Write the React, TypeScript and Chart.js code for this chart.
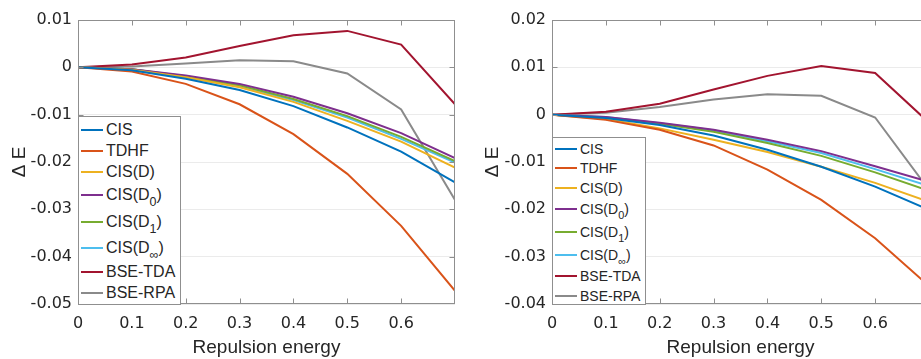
import React, { useEffect, useRef } from 'react';
import { Chart, registerables } from 'chart.js';

Chart.register(...registerables);

// ---------- data ----------
const xValues = [0, 0.1, 0.2, 0.3, 0.4, 0.5, 0.6, 0.7];
const xTickLabels = ['0', '0.1', '0.2', '0.3', '0.4', '0.5', '0.6', ''];
const xMin = 0;
const xMax = 0.7;

const seriesLabels = ['CIS', 'TDHF', 'CIS(D)', 'CIS(D_0)', 'CIS(D_1)', 'CIS(D_∞)', 'BSE-TDA', 'BSE-RPA'];
const seriesColors = ['#0072BD', '#D95319', '#EDB120', '#7E2F8E', '#77AC30', '#4DBEEE', '#A2142F', '#8a8a8a'];

// left panel
const leftCIS = [0, -0.0006, -0.0024, -0.0048, -0.0082, -0.0127, -0.0178, -0.0243];
const leftTDHF = [0, -0.0009, -0.0035, -0.0078, -0.0141, -0.0225, -0.0335, -0.0472];
const leftCISD = [0, -0.0005, -0.0021, -0.0042, -0.0073, -0.0113, -0.0157, -0.0212];
const leftCISD0 = [0, -0.0004, -0.0017, -0.0035, -0.0062, -0.0097, -0.0139, -0.0192];
const leftCISD1 = [0, -0.0004, -0.0019, -0.0038, -0.0067, -0.0103, -0.0147, -0.0198];
const leftCISDinf = [0, -0.0004, -0.0020, -0.0040, -0.0069, -0.0106, -0.0151, -0.0201];
const leftBSETDA = [0, 0.0006, 0.0021, 0.0045, 0.0068, 0.0077, 0.0048, -0.0078];
const leftBSERPA = [0, 0.0002, 0.0008, 0.0015, 0.0013, -0.0013, -0.0089, -0.0280];
const leftYMin = -0.05;
const leftYMax = 0.01;
const leftYTickLabels = ['-0.05', '-0.04', '-0.03', '-0.02', '-0.01', '0', '0.01'];

// right panel
const rightCIS = [0, -0.0007, -0.0022, -0.0044, -0.0074, -0.0110, -0.0152, -0.0201];
const rightTDHF = [0, -0.0011, -0.0032, -0.0065, -0.0116, -0.0180, -0.0261, -0.0362];
const rightCISD = [0, -0.0009, -0.0029, -0.0053, -0.0079, -0.0110, -0.0144, -0.0184];
const rightCISD0 = [0, -0.0005, -0.0017, -0.0032, -0.0053, -0.0077, -0.0109, -0.0142];
const rightCISD1 = [0, -0.0006, -0.0019, -0.0036, -0.0060, -0.0087, -0.0122, -0.0161];
const rightCISDinf = [0, -0.0005, -0.0018, -0.0033, -0.0056, -0.0081, -0.0115, -0.0151];
const rightBSETDA = [0, 0.0006, 0.0023, 0.0053, 0.0082, 0.0103, 0.0088, -0.0017];
const rightBSERPA = [0, 0.0004, 0.0016, 0.0032, 0.0043, 0.0040, -0.0006, -0.0159];
const rightYMin = -0.04;
const rightYMax = 0.02;
const rightYTickLabels = ['-0.04', '-0.03', '-0.02', '-0.01', '0', '0.01', '0.02'];

const leftSeries = [leftCIS, leftTDHF, leftCISD, leftCISD0, leftCISD1, leftCISDinf, leftBSETDA, leftBSERPA];
const rightSeries = [rightCIS, rightTDHF, rightCISD, rightCISD0, rightCISD1, rightCISDinf, rightBSETDA, rightBSERPA];

// ---------- styles ----------
const FONT = '"Liberation Sans", Arial, Helvetica, sans-serif';
const TICK_FONT = '"DejaVu Sans", sans-serif';
const TICK_SIZE = 16;
const AXIS_COLOR = '#8f8f8f';
const TEXT_COLOR = '#262626';
const GRID_COLOR = '#ebebeb';
const W = 921;
const H = 359;

const framePlugin = {
  id: 'matlabFrame',
  afterDatasetsDraw(chart: any) {
    const { ctx, chartArea: a, scales } = chart;
    const L = Math.round(a.left) + 0.5;
    const R = Math.round(a.right) - 0.5;
    const T = Math.round(a.top) + 0.5;
    const B = Math.round(a.bottom) - 0.5;
    ctx.save();
    ctx.strokeStyle = AXIS_COLOR;
    ctx.lineWidth = 1;
    ctx.strokeRect(L, T, R - L, B - T);
    const tl = 5;
    ctx.beginPath();
    scales.x.ticks.forEach((t: any) => {
      const px = Math.round(scales.x.getPixelForValue(t.value)) + 0.5;
      if (px <= L + 1 || px >= R - 1) return;
      ctx.moveTo(px, T); ctx.lineTo(px, T + tl);
      ctx.moveTo(px, B); ctx.lineTo(px, B - tl);
    });
    scales.y.ticks.forEach((t: any) => {
      const py = Math.round(scales.y.getPixelForValue(t.value)) + 0.5;
      if (py <= T + 1 || py >= B - 1) return;
      ctx.moveTo(L, py); ctx.lineTo(L + tl, py);
      ctx.moveTo(R, py); ctx.lineTo(R - tl, py);
    });
    ctx.stroke();
    ctx.restore();
  },
};

function LegendLabel({ text }: { text: string }) {
  const idx = text.indexOf('_');
  if (idx < 0) return <span>{text}</span>;
  const main = text.slice(0, idx);
  const sub = text.slice(idx + 1, idx + 2);
  const rest = text.slice(idx + 2);
  return (
    <span>
      {main}
      <span style={{ fontSize: '0.78em', position: 'relative', top: '0.5em' }}>{sub}</span>
      {rest}
    </span>
  );
}

type PanelProps = {
  series: number[][];
  yMin: number;
  yMax: number;
  yTickLabels: string[];
  canvasLeft: number;
  canvasWidth: number;
  yAxisWidth: number;
  padRight: number;
  yTitlePad: number;
  legend: { left: number; top: number; width: number; height: number; fontSize: number; rowH: number; subRowH: number; padTop: number };
};

function Panel(p: PanelProps) {
  const ref = useRef<HTMLCanvasElement>(null);
  useEffect(() => {
    if (!ref.current) return;
    const chart = new Chart(ref.current, {
      type: 'line',
      data: {
        datasets: p.series.map((ys, i) => ({
          label: seriesLabels[i],
          data: ys.map((y, j) => ({ x: xValues[j], y })),
          borderColor: seriesColors[i],
          backgroundColor: seriesColors[i],
          borderWidth: 2,
          pointRadius: 0,
          tension: 0,
          fill: false,
        })),
      },
      options: {
        animation: false,
        responsive: false,
        devicePixelRatio: 1,
        layout: { padding: { left: 0, right: p.padRight, top: 20, bottom: 0 } },
        plugins: { legend: { display: false }, tooltip: { enabled: false } },
        scales: {
          x: {
            type: 'linear',
            min: xMin,
            max: xMax,
            afterFit: (s: any) => { s.height = 55; },
            grid: { display: false, drawTicks: false, tickLength: 0 },
            border: { display: false },
            ticks: {
              stepSize: 0.1,
              padding: 10,
              color: TEXT_COLOR,
              font: { family: TICK_FONT, size: TICK_SIZE },
              maxRotation: 0,
              autoSkip: false,
              callback: (_v: any, i: number) => xTickLabels[i] ?? '',
            },
            title: {
              display: true,
              text: 'Repulsion energy',
              color: TEXT_COLOR,
              font: { family: FONT, size: 19 },
              padding: { top: 0, bottom: 0 },
            },
          },
          y: {
            type: 'linear',
            min: p.yMin,
            max: p.yMax,
            afterFit: (s: any) => { s.width = p.yAxisWidth; },
            grid: { display: true, color: GRID_COLOR, drawTicks: false, tickLength: 0, lineWidth: 1 },
            border: { display: false },
            ticks: {
              stepSize: 0.01,
              padding: 6,
              color: TEXT_COLOR,
              font: { family: TICK_FONT, size: TICK_SIZE },
              autoSkip: false,
              callback: (_v: any, i: number) => p.yTickLabels[i] ?? '',
            },
            title: {
              display: true,
              text: 'Δ E',
              color: TEXT_COLOR,
              font: { family: FONT, size: 19 },
              padding: { top: p.yTitlePad, bottom: 0 },
            },
          },
        },
      },
      plugins: [framePlugin],
    } as any);
    return () => chart.destroy();
  }, []);

  const lg = p.legend;
  return (
    <>
      <canvas
        ref={ref}
        width={p.canvasWidth}
        height={H}
        style={{ position: 'absolute', left: p.canvasLeft, top: 0, width: p.canvasWidth, height: H }}
      />
      <div
        style={{
          position: 'absolute',
          left: lg.left,
          top: lg.top,
          width: lg.width,
          height: lg.height,
          boxSizing: 'border-box',
          border: `1px solid ${AXIS_COLOR}`,
          background: '#fff',
          paddingTop: lg.padTop,
          fontFamily: FONT,
          fontSize: lg.fontSize,
          color: TEXT_COLOR,
        }}
      >
        {seriesLabels.map((lab, i) => (
          <div
            key={lab}
            style={{
              display: 'flex',
              alignItems: 'center',
              height: lab.includes('_') ? lg.subRowH : lg.rowH,
              whiteSpace: 'nowrap',
              lineHeight: 1,
            }}
          >
            <span style={{ display: 'inline-block', width: 22, height: 2, marginLeft: 2, background: seriesColors[i] }} />
            <span style={{ marginLeft: 3 }}>
              <LegendLabel text={lab} />
            </span>
          </div>
        ))}
      </div>
    </>
  );
}

export default function App() {
  return (
    <div
      style={{
        position: 'absolute',
        left: 0,
        top: 0,
        width: W,
        height: H,
        overflow: 'hidden',
        background: '#fff',
      }}
    >
      <Panel
        series={leftSeries}
        yMin={leftYMin}
        yMax={leftYMax}
        yTickLabels={leftYTickLabels}
        canvasLeft={0}
        canvasWidth={470}
        yAxisWidth={78}
        padRight={15}
        yTitlePad={8}
        legend={{ left: 78, top: 116, width: 103, height: 189, fontSize: 16, rowH: 21, subRowH: 26.5, padTop: 2 }}
      />
      <Panel
        series={rightSeries}
        yMin={rightYMin}
        yMax={rightYMax}
        yTickLabels={rightYTickLabels}
        canvasLeft={460}
        canvasWidth={480}
        yAxisWidth={92}
        padRight={11}
        yTitlePad={21}
        legend={{ left: 552, top: 137, width: 94, height: 168, fontSize: 14, rowH: 19.5, subRowH: 23, padTop: 1 }}
      />
    </div>
  );
}
